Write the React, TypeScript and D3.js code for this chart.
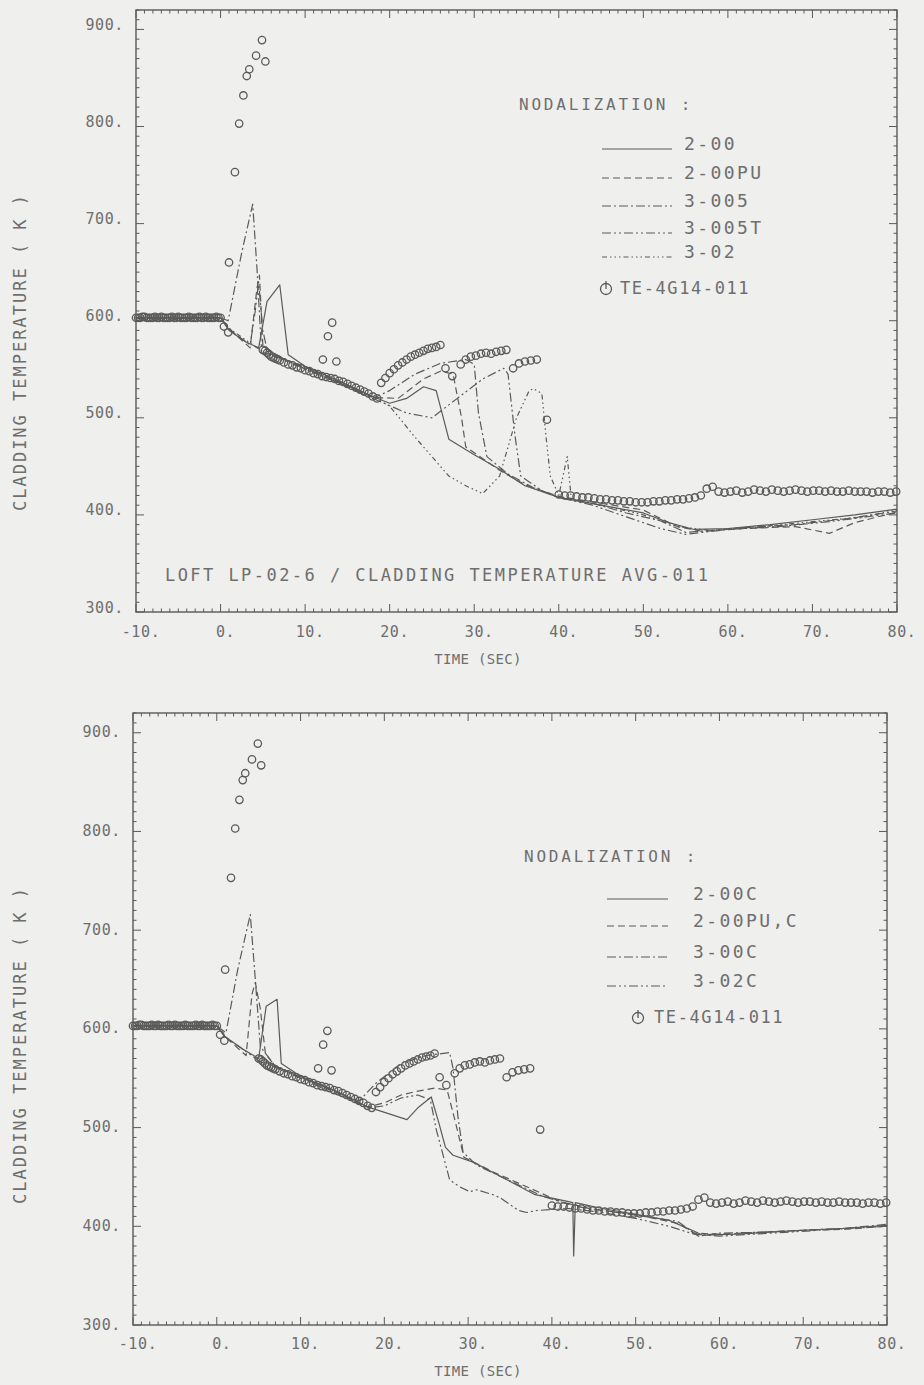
import React from "react";
import * as d3 from "d3";

type Pt = [number, number];

// ---------- DATA ----------
const xTickValues = [-10, 0, 10, 20, 30, 40, 50, 60, 70, 80];
const yTickValues = [300, 400, 500, 600, 700, 800, 900];

// Measured cladding temperature TE-4G14-011 (time s, temperature K)
const measured: Pt[] = [
  [-10, 603], [-9.75, 603], [-9.5, 603], [-9.25, 604], [-9, 604], [-8.75, 603], [-8.5, 603], [-8.25, 603],
  [-8, 603], [-7.75, 604], [-7.5, 603], [-7.25, 603], [-7, 604], [-6.75, 603], [-6.5, 603], [-6.25, 603],
  [-6, 603], [-5.75, 604], [-5.5, 603], [-5.25, 603], [-5, 604], [-4.75, 603], [-4.5, 603], [-4.25, 603],
  [-4, 603], [-3.75, 604], [-3.5, 603], [-3.25, 603], [-3, 603], [-2.75, 603], [-2.5, 604], [-2.25, 603],
  [-2, 603], [-1.75, 604], [-1.5, 603], [-1.25, 603], [-1, 603], [-0.75, 603], [-0.5, 604], [-0.25, 603],
  [0, 603], [0.4, 594], [0.9, 588],
  [1.0, 660], [1.7, 753], [2.2, 803], [2.7, 832], [3.1, 852], [3.4, 859], [4.2, 873], [4.9, 889], [5.3, 867],
  [5, 570], [5.25, 569], [5.5, 567], [5.75, 565], [6, 563], [6.25, 562], [6.5, 561], [6.75, 560], [7, 559],
  [7.5, 557], [8, 555], [8.5, 554], [9, 552],
  [9.5, 551], [10, 549], [10.5, 548], [11, 546], [11.5, 545], [12, 543], [12.5, 542], [13, 541],
  [13.5, 540], [14, 538], [14.5, 537], [15, 535], [15.5, 533], [16, 531], [16.5, 529], [17, 527],
  [17.5, 525], [18, 522], [18.5, 520],
  [12.1, 560], [12.7, 584], [13.2, 598], [13.7, 558],
  [19, 536], [19.5, 541], [20, 546], [20.5, 550], [21, 554], [21.5, 557], [22, 560], [22.5, 563],
  [23, 565], [23.5, 567], [24, 569], [24.5, 571], [25, 572], [25.5, 573], [26, 575],
  [26.6, 551], [27.4, 543], [28.4, 555], [29, 560], [29.6, 563], [30.2, 564], [30.8, 566],
  [31.4, 567], [32, 566], [32.6, 568], [33.2, 569], [33.8, 570],
  [34.6, 551], [35.3, 556], [36, 558], [36.7, 559], [37.4, 560],
  [38.6, 498],
  [40, 421], [40.7, 420], [41.4, 420], [42.1, 419], [42.8, 418], [43.5, 418], [44.2, 417], [44.9, 416],
  [45.6, 416], [46.3, 415], [47, 415], [47.7, 414], [48.4, 414], [49.1, 413], [49.8, 413], [50.5, 413],
  [51.2, 414], [51.9, 414], [52.6, 415], [53.3, 415], [54, 416], [54.7, 416], [55.4, 417], [56.1, 418],
  [56.8, 420], [57.5, 427], [58.2, 429], [58.9, 424], [59.6, 423], [60.3, 424], [61, 425], [61.7, 423],
  [62.4, 424], [63.1, 426], [63.8, 425], [64.5, 424], [65.2, 426], [65.9, 425], [66.6, 424], [67.3, 425],
  [68, 426], [68.7, 425], [69.4, 424], [70.1, 425], [70.8, 425], [71.5, 424], [72.2, 425], [72.9, 424],
  [73.6, 424], [74.3, 425], [75, 424], [75.7, 424], [76.4, 424], [77.1, 423], [77.8, 424], [78.5, 424],
  [79.2, 423], [79.9, 424],
];

// Top panel calculations
const run200: Pt[] = [
  [-10, 603], [0, 603], [1, 590], [3, 578], [4.5, 572], [5.5, 620], [7, 637], [8, 565], [10, 553],
  [14, 538], [18, 522], [20, 515], [22, 520], [24, 532], [25.5, 528], [27, 478], [30, 462], [33, 447],
  [36, 430], [40, 418], [45, 410], [50, 402], [53, 392], [56, 385], [60, 386], [65, 390], [70, 395],
  [75, 400], [80, 406],
];
const run200PU: Pt[] = [
  [-10, 603], [0, 603], [1, 592], [3.5, 572], [4.3, 633], [4.6, 647], [5, 575], [7, 562], [10, 552],
  [14, 537], [18, 521], [21, 520], [24, 540], [26, 548], [27.5, 545], [28.5, 500], [29, 470], [33, 446],
  [36, 431], [40, 419], [45, 412], [50, 405], [54, 388], [57, 383], [62, 386], [68, 388], [72, 381],
  [75, 392], [80, 403],
];
const run3005: Pt[] = [
  [-10, 603], [0, 603], [0.9, 600], [2.5, 670], [3.8, 720], [4.3, 655], [4.8, 575], [7, 562], [10, 551],
  [14, 536], [18, 520], [20, 528], [23, 545], [26, 556], [29, 560], [30, 555], [30.5, 505], [31.5, 460],
  [34, 442], [37, 428], [40, 418], [44, 412], [48, 402], [52, 394], [55, 382], [58, 384], [62, 387],
  [68, 390], [74, 396], [80, 404],
];
const run3005T: Pt[] = [
  [-10, 603], [0, 603], [1, 591], [3.5, 575], [4.1, 610], [4.5, 640], [5, 590], [5.5, 570], [10, 550],
  [14, 536], [18, 520], [22, 505], [25, 500], [28, 520], [31, 540], [33.5, 551], [34, 545], [34.8, 483],
  [35.5, 440], [38, 425], [40, 418], [44, 410], [48, 398], [52, 386], [55, 380], [60, 385], [66, 388],
  [72, 393], [80, 402],
];
const run302: Pt[] = [
  [-10, 603], [0, 603], [1, 592], [3, 580], [5, 568], [10, 550], [14, 536], [18, 522], [20, 512],
  [23, 480], [25.5, 455], [27, 440], [29, 430], [31, 422], [33, 440], [35, 500], [36.5, 528], [37, 530],
  [38, 525], [38.5, 480], [39, 440], [40, 420], [41, 460], [41.5, 415], [45, 410], [50, 400], [54, 388],
  [58, 384], [64, 388], [70, 393], [76, 398], [80, 405],
];

// Bottom panel calculations
const run200C: Pt[] = [
  [-10, 603], [0, 603], [1, 592], [3, 580], [5, 570], [5.9, 623], [7.2, 630], [7.7, 565], [10, 552],
  [14, 538], [18, 521], [22.7, 508], [24, 520], [25.6, 531], [26.5, 505], [27.3, 480], [28.2, 472],
  [30.6, 465], [34, 450], [38, 432], [42, 425], [42.5, 424], [42.6, 370], [42.8, 424], [46, 418],
  [50, 412], [54, 406], [57, 395], [58, 391], [62, 392], [66, 394], [70, 396], [75, 398], [80, 401],
];
const run200PUC: Pt[] = [
  [-10, 603], [0, 603], [1, 592], [3.5, 573], [4.2, 635], [4.6, 647], [5.2, 620], [5.8, 575], [7, 562],
  [10, 551], [14, 537], [18, 521], [20, 525], [22, 533], [24, 537], [26, 540], [27.5, 538], [28.5, 505],
  [29.5, 470], [33, 455], [37, 440], [41, 425], [45, 417], [50, 412], [55, 403], [57, 393], [60, 392],
  [65, 394], [70, 396], [75, 397], [80, 400],
];
const run300C: Pt[] = [
  [-10, 603], [0, 603], [1.1, 596], [2.5, 660], [4.0, 716], [4.6, 650], [5.2, 582], [7, 562], [10, 551],
  [14, 537], [17, 527], [19, 545], [22, 565], [25, 573], [27.8, 576], [28.2, 560], [28.8, 510],
  [29.4, 475], [31, 462], [35, 446], [39, 430], [43, 420], [47, 415], [51, 410], [55, 405], [57.5, 390],
  [60, 393], [65, 394], [70, 396], [75, 398], [80, 402],
];
const run302C: Pt[] = [
  [-10, 603], [0, 603], [1, 592], [3, 580], [5, 568], [10, 550], [14, 535], [18, 520], [20, 522],
  [22, 530], [24, 533], [25.5, 528], [26.2, 498], [27.8, 447], [29, 440], [30.2, 435], [31, 437],
  [33, 432], [34, 428], [36, 416], [37, 414], [38.2, 416], [42, 418], [46, 414], [50, 408], [54, 400],
  [57, 392], [60, 390], [66, 393], [72, 396], [80, 400],
];

const topNames = ["2-00", "2-00PU", "3-005", "3-005T", "3-02"];
const bottomNames = ["2-00C", "2-00PU,C", "3-00C", "3-02C"];
const measuredName = "TE-4G14-011";

// ---------- STYLE ----------
const INK = "#5a5a5a";
const TXT = "#6e6e6e";
const FONT = "'DejaVu Sans Mono', monospace";
const DASH = {
  solid: undefined as string | undefined,
  dash: "7,4",
  dashdot: "9,3,2,3",
  dashdotdot: "9,3,2,3,2,3",
  dotted: "5,3,1.5,3,1.5,3,1.5,3",
};

interface SeriesSpec { name: string; data: Pt[]; dash?: string }
interface PanelSpec {
  left: number; right: number; top: number; bottom: number;
  series: SeriesSpec[];
  legendTitle: [number, number];
  legendRows: number[];
  legendLineX: [number, number];
  legendTextX: number;
  measuredRow: [number, number, number]; // circle x, text x, y
  yTitleY: number;
  yLabelShift: number;
  xLabelY: number;
  xTitleY: number;
  note?: string;
}

const topPanel: PanelSpec = {
  left: 136, right: 897, top: 10, bottom: 612,
  series: [
    { name: topNames[0], data: run200, dash: DASH.solid },
    { name: topNames[1], data: run200PU, dash: DASH.dash },
    { name: topNames[2], data: run3005, dash: DASH.dashdot },
    { name: topNames[3], data: run3005T, dash: DASH.dashdotdot },
    { name: topNames[4], data: run302, dash: DASH.dotted },
  ],
  legendTitle: [519, 105],
  legendRows: [145, 174, 202, 229, 253],
  legendLineX: [602, 672],
  legendTextX: 684,
  measuredRow: [606, 620, 289],
  yTitleY: 352,
  yLabelShift: -4,
  xLabelY: 632,
  xTitleY: 660,
  note: "LOFT LP-02-6 / CLADDING TEMPERATURE AVG-011",
};

const bottomPanel: PanelSpec = {
  left: 133, right: 887, top: 713, bottom: 1325,
  series: [
    { name: bottomNames[0], data: run200C, dash: DASH.solid },
    { name: bottomNames[1], data: run200PUC, dash: DASH.dash },
    { name: bottomNames[2], data: run300C, dash: DASH.dashdot },
    { name: bottomNames[3], data: run302C, dash: DASH.dashdotdot },
  ],
  legendTitle: [524, 857],
  legendRows: [895, 922, 953, 982],
  legendLineX: [607, 668],
  legendTextX: 693,
  measuredRow: [638, 654, 1018],
  yTitleY: 1045,
  yLabelShift: 0,
  xLabelY: 1344,
  xTitleY: 1372,
};

function Panel({ p }: { p: PanelSpec }) {
  const x = d3.scaleLinear().domain([-10, 80]).range([p.left, p.right]);
  const y = d3.scaleLinear().domain([300, 920]).range([p.bottom, p.top]);
  const line = d3.line<Pt>().x((d) => x(d[0])).y((d) => y(d[1]));
  const xMinor = d3.range(-10, 81, 1);
  const yMinor = d3.range(300, 921, 10);
  const ticks: React.ReactElement[] = [];
  xMinor.forEach((v) => {
    const major = v % 10 === 0;
    const len = major ? 8 : 3.5;
    const xx = x(v);
    ticks.push(<line key={"xb" + v} x1={xx} x2={xx} y1={p.bottom} y2={p.bottom - len} />);
    ticks.push(<line key={"xt" + v} x1={xx} x2={xx} y1={p.top} y2={p.top + len} />);
  });
  yMinor.forEach((v) => {
    const major = v % 100 === 0;
    const len = major ? 8 : 3.5;
    const yy = y(v);
    ticks.push(<line key={"yl" + v} x1={p.left} x2={p.left + len} y1={yy} y2={yy} />);
    ticks.push(<line key={"yr" + v} x1={p.right} x2={p.right - len} y1={yy} y2={yy} />);
  });
  return (
    <g>
      <rect x={p.left} y={p.top} width={p.right - p.left} height={p.bottom - p.top}
        fill="none" stroke={INK} strokeWidth={1.4} />
      <g stroke={INK} strokeWidth={1}>{ticks}</g>
      {/* tick labels */}
      <g fill={TXT} fontFamily={FONT} fontSize={15} letterSpacing={0.6}>
        {xTickValues.map((v) => (
          <text key={"xl" + v} x={x(v) + 5} y={p.xLabelY} textAnchor="middle" dominantBaseline="middle">
            {v + "."}
          </text>
        ))}
        {yTickValues.map((v) => (
          <text key={"yl" + v} x={p.left - 12} y={y(v) + p.yLabelShift} textAnchor="end" dominantBaseline="middle">
            {v + "."}
          </text>
        ))}
      </g>
      <text x={478} y={p.xTitleY} textAnchor="middle" dominantBaseline="middle" fill={TXT}
        fontFamily={FONT} fontSize={14} letterSpacing={0.3}>TIME (SEC)</text>
      <text transform={`translate(21,${p.yTitleY}) rotate(-90)`} textAnchor="middle" dominantBaseline="middle"
        fill={TXT} fontFamily={FONT} fontSize={17} letterSpacing={2}>CLADDING TEMPERATURE ( K )</text>
      {/* series */}
      <g fill="none" stroke={INK} strokeWidth={1.2} strokeLinejoin="round">
        {p.series.map((s) => (
          <path key={s.name} d={line(s.data) || ""} strokeDasharray={s.dash} />
        ))}
      </g>
      <g fill="none" stroke={INK} strokeWidth={1.3}>
        {measured.map((d, i) => (
          <circle key={i} cx={x(d[0])} cy={y(d[1])} r={3.7} />
        ))}
      </g>
      {/* legend */}
      <g fill={TXT} fontFamily={FONT}>
        <text x={p.legendTitle[0]} y={p.legendTitle[1]} fontSize={16} letterSpacing={2.8}
          dominantBaseline="middle">NODALIZATION :</text>
        {p.series.map((s, i) => (
          <g key={"lg" + s.name}>
            <line x1={p.legendLineX[0]} x2={p.legendLineX[1]} y1={p.legendRows[i] + 4} y2={p.legendRows[i] + 4}
              stroke={INK} strokeWidth={1.2} strokeDasharray={s.dash} />
            <text x={p.legendTextX} y={p.legendRows[i]} fontSize={18} letterSpacing={2.4}
              dominantBaseline="middle">{s.name}</text>
          </g>
        ))}
        <circle cx={p.measuredRow[0]} cy={p.measuredRow[2]} r={5.5} fill="none" stroke={INK} strokeWidth={1.3} />
        <line x1={p.measuredRow[0]} x2={p.measuredRow[0]} y1={p.measuredRow[2] - 8} y2={p.measuredRow[2]}
          stroke={INK} strokeWidth={1.3} />
        <text x={p.measuredRow[1]} y={p.measuredRow[2]} fontSize={17} letterSpacing={1.6}
          dominantBaseline="middle">{measuredName}</text>
      </g>
      {p.note && (
        <text x={165} y={576} fill={TXT} fontFamily={FONT} fontSize={17} letterSpacing={2.45}
          dominantBaseline="middle">{p.note}</text>
      )}
    </g>
  );
}

export default function App() {
  return (
    <svg width={924} height={1385} viewBox="0 0 924 1385"
      style={{ position: "absolute", left: 0, top: 0, background: "#efefed" }}>
      <rect x={0} y={0} width={924} height={1385} fill="#efefed" />
      <Panel p={topPanel} />
      <Panel p={bottomPanel} />
    </svg>
  );
}
